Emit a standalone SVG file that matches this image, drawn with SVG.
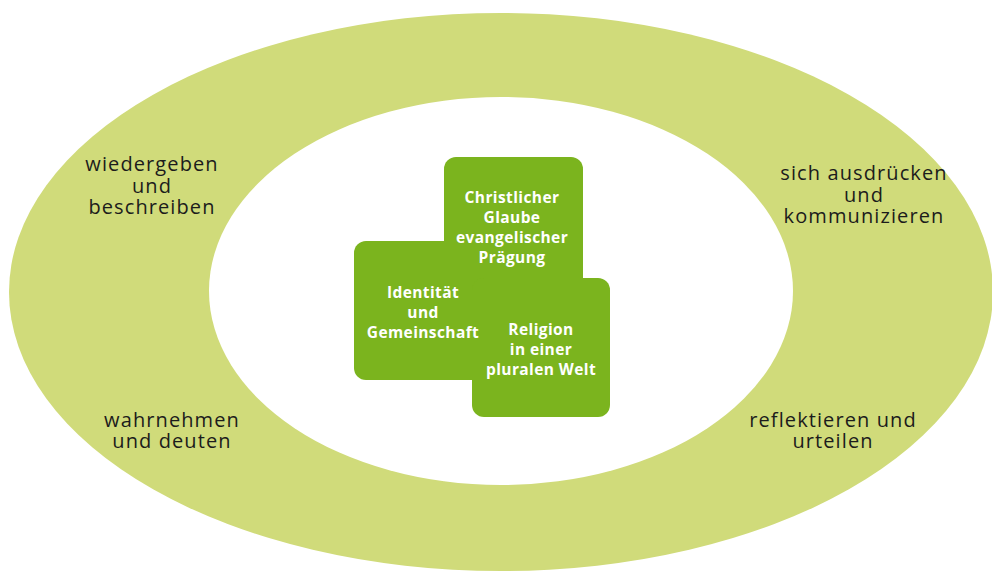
<svg xmlns="http://www.w3.org/2000/svg" width="992" height="575" viewBox="0 0 992 575">
<style>
.ring{fill:#d0db7a}
.hole{fill:#ffffff}
.box{fill:#7bb41e}
.lbl{font-family:"Open Sans","DejaVu Sans",sans-serif;font-size:20px;fill:#1c1c1c;text-anchor:middle;letter-spacing:1.1px}
.bt{font-family:"Open Sans","DejaVu Sans",sans-serif;font-size:15.5px;font-weight:bold;fill:#ffffff;text-anchor:middle;letter-spacing:0.4px}
</style>
<rect width="992" height="575" fill="#ffffff"/>
<g id="ring">
<ellipse class="ring" cx="501" cy="292" rx="492" ry="279"/>
<ellipse class="hole" cx="501" cy="291" rx="292" ry="194"/>
</g>
<g id="boxes">
<g id="box-christlicher">
<rect class="box" x="444" y="157" width="139" height="140" rx="12"/>
</g>
<g id="box-identitaet">
<rect class="box" x="354" y="241" width="139" height="139" rx="12"/>
</g>
<g id="box-religion">
<rect class="box" x="472" y="278" width="138" height="139" rx="12"/>
</g>
<g id="box-texts">
<text class="bt" x="512" y="203">Christlicher</text>
<text class="bt" x="512" y="223">Glaube</text>
<text class="bt" x="512" y="243">evangelischer</text>
<text class="bt" x="512" y="263">Prägung</text>
<text class="bt" x="423" y="298">Identität</text>
<text class="bt" x="423" y="318">und</text>
<text class="bt" x="423" y="338">Gemeinschaft</text>
<text class="bt" x="541" y="335">Religion</text>
<text class="bt" x="541" y="355">in einer</text>
<text class="bt" x="541" y="375">pluralen Welt</text>
</g>
</g>
<g id="label-wiedergeben">
<text class="lbl" x="152" y="171">wiedergeben</text>
<text class="lbl" x="152" y="193">und</text>
<text class="lbl" x="152" y="214">beschreiben</text>
</g>
<g id="label-ausdruecken">
<text class="lbl" x="864" y="180">sich ausdrücken</text>
<text class="lbl" x="864" y="202">und</text>
<text class="lbl" x="864" y="223">kommunizieren</text>
</g>
<g id="label-wahrnehmen">
<text class="lbl" x="172" y="427">wahrnehmen</text>
<text class="lbl" x="172" y="448">und deuten</text>
</g>
<g id="label-reflektieren">
<text class="lbl" x="833" y="427">reflektieren und</text>
<text class="lbl" x="833" y="448">urteilen</text>
</g>
</svg>
